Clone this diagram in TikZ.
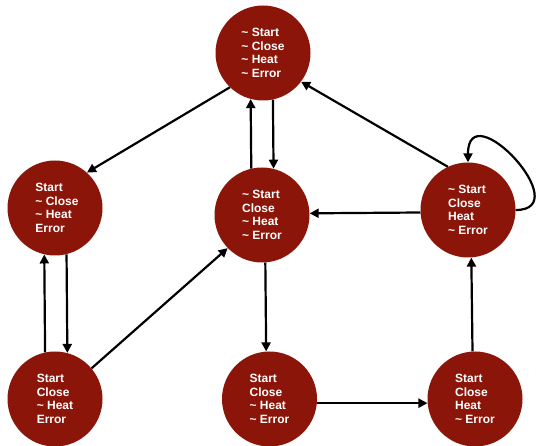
\documentclass[tikz,border=0pt]{standalone}
\usepackage{fontspec}
\setmainfont{Liberation Sans}
\usetikzlibrary{arrows.meta}
\definecolor{statered}{RGB}{139,21,9}
\tikzset{
  state/.style={circle, fill=statered, draw=none, minimum size=95pt, inner sep=0pt,
    text=white, align=left, font=\fontsize{12pt}{13.7pt}\selectfont\bfseries},
  conn/.style={line width=2.2pt, -{Triangle[length=9pt,width=9pt]}}
}
\begin{document}
\begin{tikzpicture}[x=1pt,y=-1pt]
\useasboundingbox (0,0) rectangle (536,446);
\node[state] (T)  at (263,53)    {\textasciitilde{} Start\\\textasciitilde{} Close\\\textasciitilde{} Heat\\\textasciitilde{} Error};
\node[state] (ML) at (55,208)    {\hspace*{4pt}Start\\\hspace*{4pt}\textasciitilde{} Close\\\hspace*{4pt}\textasciitilde{} Heat\\\hspace*{4pt}Error};
\node[state] (MC) at (262,215)   {\textasciitilde{} Start\\Close\\\textasciitilde{} Heat\\\textasciitilde{} Error};
\node[state] (MR) at (468,210)   {\textasciitilde{} Start\\Close\\Heat\\\textasciitilde{} Error};
\node[state] (BL) at (55,399)    {Start\\Close\\\textasciitilde{} Heat\\Error};
\node[state] (BM) at (269.5,399) {Start\\Close\\\textasciitilde{} Heat\\\textasciitilde{} Error};
\node[state] (BR) at (475,399)   {Start\\Close\\Heat\\\textasciitilde{} Error};

\draw[conn] (T.226) -- (ML.48);
\draw[conn] (MC.103.5) -- (T.255.2);
\draw[conn] (T.282.3) -- (MC.76.5);
\draw[conn] (MR.115) -- (T.323);
\draw[conn] (MR.0) .. controls +(62,0) and +(0,-70) .. (MR.90);
\draw[conn] (MR.183.2) -- (MC.2.8);
\draw[conn] (BL.102.3) -- (ML.257.7);
\draw[conn] (ML.284.4) -- (BL.75.6);
\draw[conn] (BL.40) -- (MC.224);
\draw[conn] (MC.274.5) -- (BM.94.6);
\draw[conn] (BM.-5) -- (BR.185);
\draw[conn] (BR.93.6) -- (MR.274.9);
\end{tikzpicture}
\end{document}
